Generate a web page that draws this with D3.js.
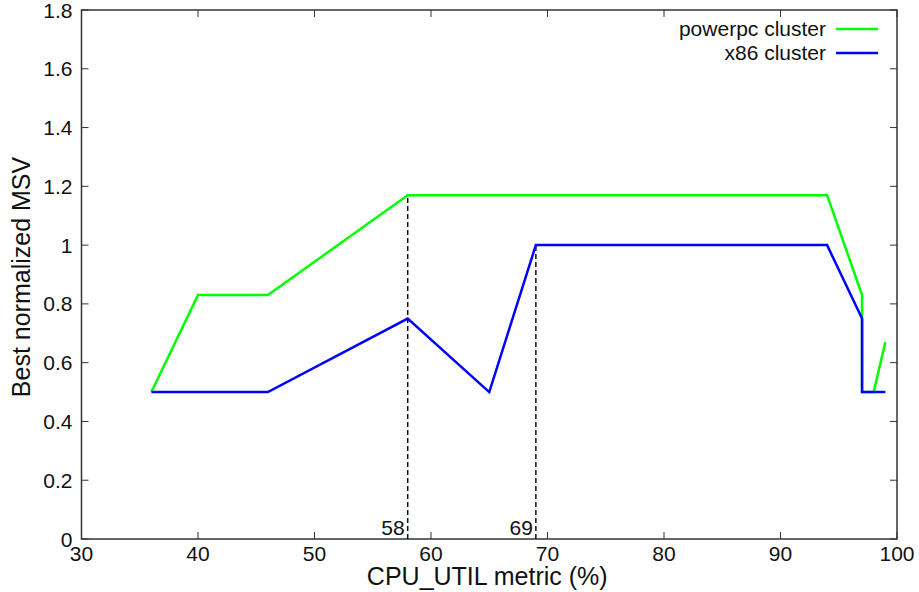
<!DOCTYPE html>
<html>
<head>
<meta charset="utf-8">
<script src="https://cdn.jsdelivr.net/npm/d3@7"></script>
<style>
	body { margin: 0; background: #fff; }
	svg { font-family: "Liberation Sans", Arial, sans-serif; }
</style>
</head>
<body>
<svg id="chart" width="919" height="592"></svg>
<script>
// data
const powerpc_x = [36, 40, 46, 58, 94, 97, 97, 98, 99];
const powerpc_y = [0.5, 0.83, 0.83, 1.17, 1.17, 0.83, 0.5, 0.5, 0.67];
const x86_x = [36, 46, 58, 65, 69, 94, 97, 97, 99];
const x86_y = [0.5, 0.5, 0.75, 0.5, 1.0, 1.0, 0.75, 0.5, 0.5];
const marker_x = [58, 69];
const marker_y = [1.17, 1.0];
const x_ticks = [30, 40, 50, 60, 70, 80, 90, 100];
const y_ticks = [0, 0.2, 0.4, 0.6, 0.8, 1, 1.2, 1.4, 1.6, 1.8];
const series_names = ["powerpc cluster", "x86 cluster"];
const series_colors = ["#00ff00", "#0000ff"];

const svg = d3.select('#chart');
const plot_left = 81.5, plot_right = 897, plot_top = 10, plot_bottom = 539;
const fs = 21;

const x = d3.scaleLinear().domain([30, 100]).range([plot_left, plot_right]);
const y = d3.scaleLinear().domain([0, 1.8]).range([plot_bottom, plot_top]);

// ticks (mirrored on all sides, pointing inward)
const tickLen = 7;
const ticks = svg.append('g').attr('stroke', '#333').attr('stroke-width', 1);
x_ticks.forEach(t => {
	ticks.append('line').attr('x1', x(t)).attr('x2', x(t)).attr('y1', plot_bottom).attr('y2', plot_bottom - tickLen);
	ticks.append('line').attr('x1', x(t)).attr('x2', x(t)).attr('y1', plot_top).attr('y2', plot_top + tickLen);
});
y_ticks.forEach(t => {
	ticks.append('line').attr('x1', plot_left).attr('x2', plot_left + tickLen).attr('y1', y(t)).attr('y2', y(t));
	ticks.append('line').attr('x1', plot_right).attr('x2', plot_right - tickLen).attr('y1', y(t)).attr('y2', y(t));
});

// tick labels
svg.append('g').selectAll('text').data(x_ticks).enter().append('text')
	.attr('x', d => x(d)).attr('y', plot_bottom + 22)
	.attr('text-anchor', 'middle').attr('font-size', fs).attr('fill', '#111')
	.text(d => d);
svg.append('g').selectAll('text').data(y_ticks).enter().append('text')
	.attr('x', plot_left - 9).attr('y', d => y(d) + 7.5)
	.attr('text-anchor', 'end').attr('font-size', fs).attr('fill', '#111')
	.text(d => d);

// axis titles
svg.append('text').attr('x', (plot_left + plot_right) / 2 - 2).attr('y', 585)
	.attr('text-anchor', 'middle').attr('font-size', 25).attr('fill', '#111')
	.text('CPU_UTIL metric (%)');
svg.append('text').attr('transform', 'translate(30,277) rotate(-90)')
	.attr('text-anchor', 'middle').attr('font-size', 25).attr('fill', '#111')
	.text('Best normalized MSV');

// frame
svg.append('rect').attr('x', plot_left).attr('y', plot_top)
	.attr('width', plot_right - plot_left).attr('height', plot_bottom - plot_top)
	.attr('fill', 'none').attr('stroke', '#333').attr('stroke-width', 1.5);

// dashed marker lines
marker_x.forEach((m, i) => {
	svg.append('line').attr('x1', x(m)).attr('x2', x(m)).attr('y1', plot_bottom).attr('y2', y(marker_y[i]))
		.attr('stroke', '#111').attr('stroke-width', 1.5).attr('stroke-dasharray', '5,3');
	svg.append('text').attr('x', x(m) - 3).attr('y', plot_bottom - 4)
		.attr('text-anchor', 'end').attr('font-size', fs).attr('fill', '#111')
		.text(m);
});

// series
const line = d3.line().x(d => x(d[0])).y(d => y(d[1]));
const series = [
	d3.zip(powerpc_x, powerpc_y),
	d3.zip(x86_x, x86_y)
];
series.forEach((s, i) => {
	svg.append('path').datum(s).attr('d', line)
		.attr('fill', 'none').attr('stroke', series_colors[i]).attr('stroke-width', 2.5)
		.attr('stroke-linejoin', 'miter');
});

// legend
series_names.forEach((name, i) => {
	const ly = 29 + i * 24;
	svg.append('text').attr('x', 826).attr('y', ly + 7)
		.attr('text-anchor', 'end').attr('font-size', fs).attr('fill', '#111')
		.text(name);
	svg.append('line').attr('x1', 836).attr('x2', 878).attr('y1', ly).attr('y2', ly)
		.attr('stroke', series_colors[i]).attr('stroke-width', 2.5);
});
</script>
</body>
</html>
